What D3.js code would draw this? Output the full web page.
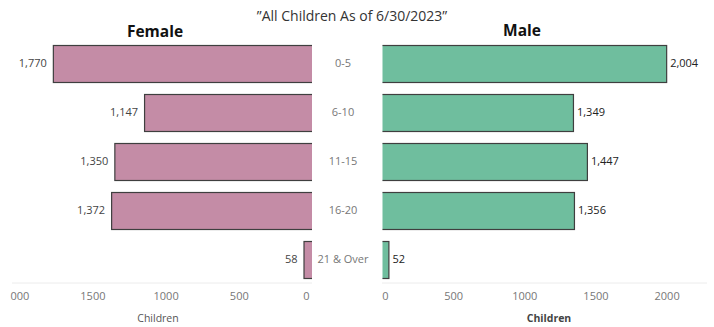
<!DOCTYPE html>
<html>
<head>
<meta charset="utf-8">
<script src="https://cdn.jsdelivr.net/npm/d3@7/dist/d3.min.js"></script>
<style>
  html, body { margin: 0; padding: 0; background: #fff; }
  svg { display: block; font-family: "Open Sans", "Noto Sans", sans-serif; }
</style>
</head>
<body>
<svg id="chart" width="714" height="327"></svg>
<script>
// Children by age group and gender, as of 6/30/2023
const ageGroups = ["0-5", "6-10", "11-15", "16-20", "21 & Over"];
const female = [1770, 1147, 1350, 1372, 58];
const male = [2004, 1349, 1447, 1356, 52];
const tickValues = [0, 500, 1000, 1500, 2000];

const svg = d3.select("#chart");
const fmt = d3.format(",");

// Layout
const rowTop = 45, rowPitch = 49, barH = 37;
const leftZero = 312, leftEdge = 0;
const rightZero = 382, rightEdge = 707;
const axisY = 283;

const y = d3.scaleBand()
  .domain(ageGroups)
  .range([rowTop - (rowPitch - barH) / 2, rowTop - (rowPitch - barH) / 2 + rowPitch * ageGroups.length])
  .paddingInner((rowPitch - barH) / rowPitch)
  .paddingOuter((rowPitch - barH) / rowPitch / 2);

const xL = d3.scaleLinear().domain([0, 2131]).range([leftZero, leftEdge]);
const xR = d3.scaleLinear().domain([0, 2284]).range([rightZero, rightEdge]);

const defs = svg.append("defs");
defs.append("clipPath").attr("id", "clipL")
  .append("rect").attr("x", 0).attr("y", 0).attr("width", leftZero).attr("height", 327);
defs.append("clipPath").attr("id", "clipR")
  .append("rect").attr("x", rightZero + 0.5).attr("y", 0).attr("width", 330).attr("height", 327);
defs.append("clipPath").attr("id", "clipAxisL")
  .append("rect").attr("x", 10).attr("y", 0).attr("width", 340).attr("height", 327);

// Title
svg.append("text")
  .attr("x", 352).attr("y", 21)
  .attr("text-anchor", "middle")
  .attr("font-size", 14)
  .attr("fill", "#333")
  .text("\u201DAll Children As of 6/30/2023\u201D");

// Panel titles
svg.append("text").attr("x", 155).attr("y", 37).attr("text-anchor", "middle")
  .attr("font-size", 15.5).attr("font-weight", "bold").attr("fill", "#111").text("Female");
svg.append("text").attr("x", 522).attr("y", 36).attr("text-anchor", "middle")
  .attr("font-size", 15.5).attr("font-weight", "bold").attr("fill", "#111").text("Male");

// Axis baselines
svg.append("line").attr("x1", 12).attr("x2", leftZero).attr("y1", axisY).attr("y2", axisY)
  .attr("stroke", "#ececec");
svg.append("line").attr("x1", rightZero).attr("x2", rightEdge).attr("y1", axisY).attr("y2", axisY)
  .attr("stroke", "#ececec");

// Female bars
const gL = svg.append("g").attr("clip-path", "url(#clipL)");
gL.selectAll("rect").data(ageGroups).join("rect")
  .attr("x", (d, i) => xL(female[i]) + 0.5)
  .attr("y", d => y(d) + 0.5)
  .attr("width", (d, i) => xL(0) - xL(female[i]) + 4)
  .attr("height", y.bandwidth())
  .attr("fill", "#c48ca6")
  .attr("stroke", "#3f3f3f")
  .attr("stroke-width", 1.2);

// Male bars
const gR = svg.append("g").attr("clip-path", "url(#clipR)");
gR.selectAll("rect").data(ageGroups).join("rect")
  .attr("x", xR(0) - 4)
  .attr("y", d => y(d) + 0.5)
  .attr("width", (d, i) => xR(male[i]) - xR(0) + 4 - 0.5)
  .attr("height", y.bandwidth())
  .attr("fill", "#6fbe9e")
  .attr("stroke", "#3f3f3f")
  .attr("stroke-width", 1.2);

// Value labels
svg.append("g").selectAll("text").data(ageGroups).join("text")
  .attr("x", (d, i) => xL(female[i]) - 6)
  .attr("y", d => y(d) + y.bandwidth() / 2)
  .attr("dy", "0.35em")
  .attr("text-anchor", "end")
  .attr("font-size", 11)
  .attr("fill", "#444")
  .text((d, i) => fmt(female[i]));

svg.append("g").selectAll("text").data(ageGroups).join("text")
  .attr("x", (d, i) => xR(male[i]) + 3)
  .attr("y", d => y(d) + y.bandwidth() / 2)
  .attr("dy", "0.35em")
  .attr("text-anchor", "start")
  .attr("font-size", 11)
  .attr("fill", "#222")
  .text((d, i) => fmt(male[i]));

// Category labels
svg.append("g").selectAll("text").data(ageGroups).join("text")
  .attr("x", 343)
  .attr("y", d => y(d) + y.bandwidth() / 2)
  .attr("dy", "0.35em")
  .attr("text-anchor", "middle")
  .attr("font-size", 11)
  .attr("fill", "#777")
  .text(d => d);

// Axes
const axisL = d3.axisBottom(xL).tickValues(tickValues).tickFormat(d3.format("d")).tickSize(0).tickPadding(0);
const axisR = d3.axisBottom(xR).tickValues(tickValues).tickFormat(d3.format("d")).tickSize(0).tickPadding(0);

const aL = svg.append("g").attr("transform", `translate(0,${axisY + 9})`)
  .attr("clip-path", "url(#clipAxisL)").call(axisL);
const aR = svg.append("g").attr("transform", `translate(0,${axisY + 9})`).call(axisR);

[aL, aR].forEach(a => {
  a.select(".domain").remove();
  a.selectAll("text")
    .attr("font-size", 11)
    .attr("font-family", "\"Open Sans\", \"Noto Sans\", sans-serif")
    .attr("fill", "#777");
});
aL.selectAll(".tick").filter(d => d === 0).select("text").attr("dx", -6);
aL.selectAll(".tick").filter(d => d === 2000).select("text").attr("dx", -3);
aR.selectAll(".tick").filter(d => d === 0).select("text").attr("dx", 3);

// Axis titles
svg.append("text").attr("x", 158).attr("y", 322).attr("text-anchor", "middle")
  .attr("font-size", 10.5).attr("fill", "#555").text("Children");
svg.append("text").attr("x", 549).attr("y", 322).attr("text-anchor", "middle")
  .attr("font-size", 10.5).attr("font-weight", "bold").attr("fill", "#444").text("Children");
</script>
</body>
</html>
